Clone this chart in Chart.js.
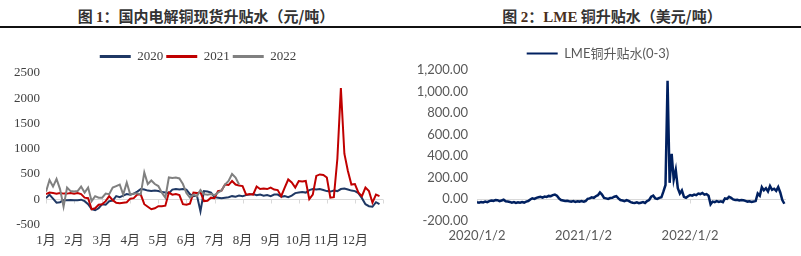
<!DOCTYPE html>
<html><head><meta charset="utf-8">
<script src="https://cdn.jsdelivr.net/npm/chart.js@4/dist/chart.umd.min.js"></script>
<style>
html,body{margin:0;padding:0;background:#fff;width:801px;height:256px;overflow:hidden;position:relative}
.title{position:absolute;top:5px;font:bold 15px "Noto Sans CJK SC",sans-serif;color:#333;white-space:nowrap;transform:translateX(-50%)}
.title .n{font-family:"Liberation Serif",serif;font-weight:bold;color:#4a2f1c}
.rule{position:absolute;top:26px;left:0;width:801px;height:1.5px;background:#111}
#c1{position:absolute;left:0;top:47px}
#c2{position:absolute;left:400px;top:44px}
</style></head><body>
<div class="title" style="left:206px">图 <span class="n">1</span>：国内电解铜现货升贴水（元/吨）</div>
<div class="title" style="left:612px">图 <span class="n">2</span>：<span class="n">LME</span> 铜升贴水（美元/吨）</div>
<div class="rule"></div>
<canvas id="c1" width="400" height="209"></canvas>
<canvas id="c2" width="401" height="208"></canvas>
<script>
// ---- Figure 1 data (8 samples per month) ----
const monthLabels = ['1月','2月','3月','4月','5月','6月','7月','8月','9月','10月','11月','12月'];
const seriesNames = ['2020','2021','2022'];
const spot2020 = [20,90,10,-70,-60,-20,-20,-15, -20,-20,-10,-40,-100,-200,-220,-180,
  -100,-110,-40,-30,60,40,70,100, 90,110,150,200,190,170,160,170,
  160,140,130,120,190,200,190,200, 190,100,60,70,-240,160,150,130,
  40,30,20,30,40,60,50,70, 60,80,90,100,80,90,70,80,
  60,90,90,50,60,40,70,120, 130,140,130,180,200,190,200,180,
  160,150,170,160,200,210,190,170, 160,120,20,-100,-140,-150,-60,-100];
const spot2021 = [100,130,120,110,120,110,110,120, 110,120,100,30,20,-200,-180,-110,
  -100,-40,60,-20,-70,-80,-70,-60, 10,20,90,90,-100,-150,-200,-180,
  -140,-140,-130,130,90,100,80,-100, -110,-90,130,120,140,-40,-30,30,
  20,160,170,290,280,360,290,270, 260,90,100,90,250,200,210,200,
  230,190,180,60,230,390,330,230, 360,350,360,0,90,460,490,480,
  430,30,40,800,2200,900,560,290, 300,130,60,230,160,-70,90,60];
const spot2022 = [150,380,250,400,200,-150,230,160, 150,160,250,130,230,-40,60,30,
  30,110,100,230,260,290,90,330, 90,110,110,100,530,300,370,300,
  260,130,30,430,420,430,410,300, 120,30,90,60,180,100,90,100,
  80,130,170,290,360,500,430,290];

// ---- Figure 2 data (weekly samples, year fraction from 2020/1/2) ----
const dateLabels = ['2020/1/2','2021/1/2','2022/1/2'];
const lme2020 = [-30,-35,-28,-32,-25,-30,-20,-15,-18,-10,-12,-20,-15,-8,-22,-25,-28,
  -35,-30,-38,-32,-36,-30,-34,-25,-20,-5,5,0,10,15,20,12,22,18,28,25,35,40,30,
  5,-10,-15,-20,-18,-22,-25,-20,-28,-22,-25,-20];
const lme2021 = [-25,-20,0,5,15,10,25,35,60,40,10,5,0,8,10,20,25,5,-10,-15,-20,-12,-18,
  -30,-35,-38,-32,-40,-35,-30,-38,-20,-10,20,30,5,0,10,15,70,130,1100,150,420,180,270,
  100,50,80,20,10,25];
const lme2022 = [35,30,40,35,50,45,55,40,45,30,-50,-25,-30,-20,-28,-22,-30,5,0,20,10,
  -5,-10,-8,-15,-10,-12,-18,-25,-22,-28,-25,-20,50,30,110,80,100,70,120,85,95,75,110,
  60,-10,-45];

const perMonth = 8, perYear = 52;
const toXY = (arr, step, offset) => arr.map((v, i) => ({x: offset + i * step, y: v}));

const zeroLine = {
  id: 'zeroLine',
  beforeDatasetsDraw(chart, args, opts) {
    const {ctx, chartArea, scales: {x, y}} = chart;
    const py = Math.round(y.getPixelForValue(0)) + 0.5;
    ctx.save();
    ctx.strokeStyle = opts.color; ctx.lineWidth = 1;
    ctx.beginPath();
    ctx.moveTo(chartArea.left, py); ctx.lineTo(chartArea.right, py);
    (opts.ticks || []).forEach(v => {
      const px = Math.round(x.getPixelForValue(v)) + 0.5;
      ctx.moveTo(px, py); ctx.lineTo(px, py + 4);
    });
    ctx.stroke(); ctx.restore();
  }
};

const flatLegend = chart => Chart.defaults.plugins.legend.labels.generateLabels(chart)
  .map(l => Object.assign(l, {lineWidth: 0}));

const serif = {family: '"Liberation Serif", "Noto Sans CJK SC", serif', size: 13};
const sans = {family: 'Lato, "Noto Sans CJK SC", sans-serif', size: 13};

new Chart(document.getElementById('c1'), {
  type: 'line',
  data: { datasets: [
    {label: seriesNames[0], data: toXY(spot2020, 1/perMonth, 0), borderColor: '#1F3864', backgroundColor: '#1F3864', order: 3},
    {label: seriesNames[1], data: toXY(spot2021, 1/perMonth, 0), borderColor: '#C00000', backgroundColor: '#C00000', order: 2},
    {label: seriesNames[2], data: toXY(spot2022, 1/perMonth, 0), borderColor: '#808080', backgroundColor: '#808080', order: 1}
  ]},
  options: {
    responsive: false, animation: false,
    layout: {padding: {left: 13, right: 17, top: 0, bottom: 0}},
    elements: {point: {radius: 0}, line: {borderWidth: 2, tension: 0}},
    plugins: {
      legend: {position: 'top', labels: {boxWidth: 31, boxHeight: 3, padding: 3, color: '#404040', font: serif,
        generateLabels: flatLegend, sort: (a, b) => a.datasetIndex - b.datasetIndex}},
      tooltip: {enabled: false},
      zeroLine: {color: '#D9D9D9', ticks: [0,1,2,3,4,5,6,7,8,9,10,11,12]}
    },
    scales: {
      x: {type: 'linear', min: 0, max: 12,
        grid: {display: false, drawTicks: false}, border: {display: false},
        afterBuildTicks: s => { s.ticks = s.ticks.filter(t => Number.isInteger(t.value) && t.value < 12); },
        ticks: {stepSize: 1, autoSkip: false, maxRotation: 0, padding: 8, color: '#404040', font: serif,
          callback: v => monthLabels[v] ?? ''}},
      y: {min: -500, max: 2500,
        grid: {display: false, drawTicks: false}, border: {display: false},
        afterFit: s => { s.width = 33; },
        ticks: {stepSize: 500, padding: 6, color: '#404040', font: serif, callback: v => String(v)}}
    }
  },
  plugins: [zeroLine]
});

const lmeData = [].concat(
  toXY(lme2020, 1/perYear, 0),
  toXY(lme2021, 1/perYear, 1),
  toXY(lme2022, 1/perYear, 2)
);

new Chart(document.getElementById('c2'), {
  type: 'line',
  data: { datasets: [
    {label: 'LME铜升贴水(0-3)', data: lmeData, borderColor: '#002060', backgroundColor: '#002060'}
  ]},
  options: {
    responsive: false, animation: false,
    layout: {padding: {left: 10, right: 15, top: 0, bottom: 0}},
    elements: {point: {radius: 0}, line: {borderWidth: 2.5, tension: 0}},
    plugins: {
      legend: {position: 'top', labels: {boxWidth: 31, boxHeight: 2, padding: 3, color: '#595959', font: sans,
        generateLabels: flatLegend}},
      tooltip: {enabled: false},
      zeroLine: {color: '#D9D9D9', ticks: [0, 1, 2]}
    },
    scales: {
      x: {type: 'linear', min: 0, max: 2.9,
        grid: {display: false, drawTicks: false}, border: {display: false},
        afterBuildTicks: s => { s.ticks = s.ticks.filter(t => Number.isInteger(t.value)); },
        ticks: {stepSize: 1, autoSkip: false, maxRotation: 0, padding: 8, color: '#595959', font: sans,
          callback: v => dateLabels[v] ?? ''}},
      y: {min: -200, max: 1200,
        grid: {display: false, drawTicks: false}, border: {display: false},
        afterFit: s => { s.width = 67; },
        ticks: {stepSize: 200, padding: 9, color: '#595959', font: sans,
          callback: v => Number(v).toLocaleString('en-US', {minimumFractionDigits: 2, maximumFractionDigits: 2})}}
    }
  },
  plugins: [zeroLine]
});
</script>
</body></html>
